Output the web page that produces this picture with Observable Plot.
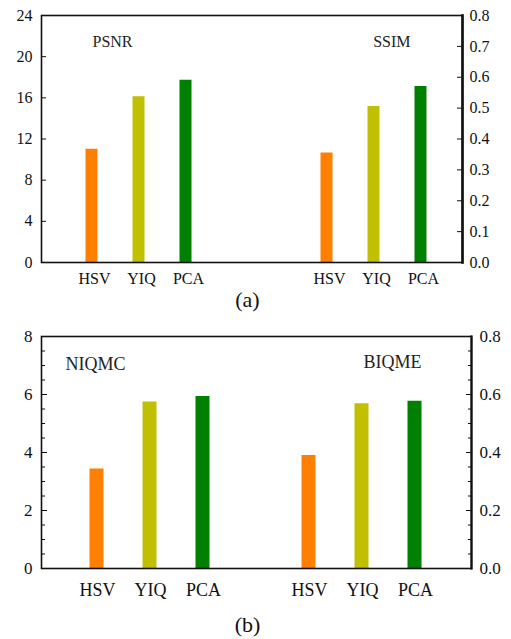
<!DOCTYPE html>
<html><head><meta charset="utf-8">
<script src="https://cdn.jsdelivr.net/npm/d3@7"></script>
<script src="https://cdn.jsdelivr.net/npm/@observablehq/plot@0.6"></script>
<style>
body{margin:0;background:#fff;width:511px;height:639px;overflow:hidden;font-family:"Liberation Serif","Times New Roman",serif;color:#111;}
.cap{width:495px;text-align:center;font-size:22px;color:#111;}
svg{display:block}
svg text{font-family:"Liberation Serif","Times New Roman",serif !important;font-variant:normal !important;}
</style></head><body>
<div id="a"></div><div class="cap" style="height:20px;line-height:20px">(a)</div>
<div id="b"></div><div class="cap" style="height:34px;line-height:40px">(b)</div>
<script>
const methods = ["HSV", "YIQ", "PCA"];
const colors = ["#ff8000", "#c0c000", "#008000"];

const metricsA = ["PSNR", "SSIM"];
const psnr = [11.0, 16.1, 17.7];
const ssim = [0.355, 0.505, 0.57];
const leftTicksA = [0, 4, 8, 12, 16, 20, 24];
const rightTicksA = [0.0, 0.1, 0.2, 0.3, 0.4, 0.5, 0.6, 0.7, 0.8];

const metricsB = ["NIQMC", "BIQME"];
const niqmc = [3.43, 5.74, 5.93];
const biqme = [0.39, 0.568, 0.577];
const leftTicksB = [0, 2, 4, 6, 8];
const rightTicksB = [0.0, 0.2, 0.4, 0.6, 0.8];

const FF = "'Liberation Serif', 'Times New Roman', serif";

function panel(cfg) {
  const {metrics, leftVals, rightVals, k, gaps, yMax, leftTicks, rightTicks, minorStep} = cfg;
  const rows = [];
  methods.forEach((m, i) => rows.push({key: metrics[0] + "|" + m, v: leftVals[i], c: colors[i]}));
  methods.forEach((m, i) => rows.push({key: metrics[1] + "|" + m, v: rightVals[i] * k, c: colors[i]}));
  const keysL = methods.map(m => metrics[0] + "|" + m);
  const keysR = methods.map(m => metrics[1] + "|" + m);
  const gapKeys = d3.range(gaps).map(i => "gap" + i);
  const domain = [...keysL, ...gapKeys, ...keysR];
  const marks = [
    Plot.ruleX(rows, {x: "key", y1: 0, y2: "v", stroke: "c", strokeWidth: cfg.barW})
  ];
  if (minorStep) {
    const minor = d3.range(0, yMax + 1e-9, minorStep);
    marks.push(Plot.axisY(minor, {anchor: "left", tickSize: -4, tickFormat: () => "", label: null}));
    marks.push(Plot.axisY(minor, {anchor: "right", tickSize: -4, tickFormat: () => "", label: null}));
  }
  marks.push(
    Plot.axisY(leftTicks, {anchor: "left", tickSize: -cfg.leftTick, tickFormat: () => "", label: null}),
    Plot.axisY(leftTicks, {anchor: "left", tickSize: 0, tickPadding: cfg.padL, fontSize: cfg.tickFont, fontFamily: FF, label: null}),
    Plot.axisY(rightTicks.map(t => t * k), {anchor: "right", tickSize: -6, tickFormat: () => "", label: null}),
    Plot.axisY(rightTicks.map(t => t * k), {anchor: "right", tickSize: 0, tickPadding: cfg.padR, fontSize: cfg.tickFont, fontFamily: FF,
      tickFormat: d => (d / k).toFixed(1), label: null}),
    Plot.axisX([...keysL, ...keysR], {anchor: "bottom", tickSize: 0, tickPadding: cfg.padX, dx: cfg.labelDx,
      fontSize: cfg.catFont, fontFamily: FF, tickFormat: d => d.split("|")[1], label: null}),
    Plot.frame({stroke: "#111", strokeWidth: 1.6}),
    Plot.frame({anchor: "right", stroke: "#111", strokeWidth: cfg.rightW}),
    Plot.text([metrics[0]], {text: d => d, frameAnchor: "top-left", textAnchor: "start", dx: cfg.t1dx, dy: cfg.t1dy, fontSize: cfg.mFont, fontFamily: FF, fill: "#222"}),
    Plot.text([metrics[1]], {text: d => d, frameAnchor: "top-right", textAnchor: "end", dx: cfg.t2dx, dy: cfg.t2dy, fontSize: cfg.mFont, fontFamily: FF, fill: "#222"})
  );
  return Plot.plot({
    width: 511,
    height: cfg.height,
    marginTop: cfg.mt,
    marginBottom: cfg.mb,
    marginLeft: cfg.ml,
    marginRight: cfg.mr,
    style: {fontFamily: FF, color: "#111", background: "transparent"},
    x: {type: "point", domain, padding: 0, insetLeft: cfg.inL, insetRight: cfg.inR, axis: null, label: null},
    y: {domain: [0, yMax], axis: null, label: null},
    color: {type: "identity"},
    marks
  });
}

document.getElementById("a").appendChild(panel({
  metrics: metricsA, leftVals: psnr, rightVals: ssim, k: 30, gaps: 2, yMax: 24,
  leftTicks: leftTicksA, rightTicks: rightTicksA, minorStep: null, leftTick: 5,
  height: 290, mt: 15, mb: 28, ml: 41, mr: 49, inL: 48.5, inR: 41.5, barW: 12,
  padL: 9, padR: 7, padX: 10, labelDx: 3, tickFont: 16, catFont: 16, mFont: 16,
  rightW: 2.6, t1dx: 51, t1dy: 20, t2dx: -52, t2dy: 20
}));

document.getElementById("b").appendChild(panel({
  metrics: metricsB, leftVals: niqmc, rightVals: biqme, k: 10, gaps: 1, yMax: 8,
  leftTicks: leftTicksB, rightTicks: rightTicksB, minorStep: 0.5, leftTick: 6,
  height: 295, mt: 26, mb: 37, ml: 41, mr: 40, inL: 52.4, inR: 53.9, barW: 14,
  padL: 9, padR: 8, padX: 15, labelDx: 1, tickFont: 17, catFont: 18, mFont: 18,
  rightW: 2.2, t1dx: 24, t1dy: 21, t2dx: -50, t2dy: 19
}));
</script>
</body></html>
